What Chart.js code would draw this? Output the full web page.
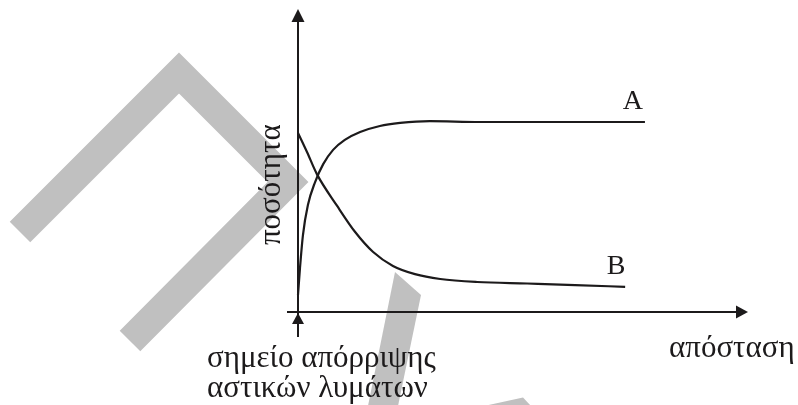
<!DOCTYPE html>
<html>
<head>
<meta charset="utf-8">
<script src="https://cdn.jsdelivr.net/npm/chart.js@4/dist/chart.umd.min.js"></script>
<style>
  html, body { margin: 0; padding: 0; background: #ffffff; }
  #wrap { width: 798px; height: 405px; }
</style>
</head>
<body>
<div id="wrap"><canvas id="c" width="798" height="405"></canvas></div>
<script>
// ---- data (schematic units: x = distance 0..100, y = quantity 0..100) ----
const seriesNames = ['A', 'B'];
const distanceA = [0, 0.44, 1.1, 2.2, 3.8, 5.6, 7.8, 10.4, 13.8, 18.2, 22.7, 29.3, 40.4, 58.2, 77.1];
const quantityA = [5.6, 14.5, 25.4, 35.3, 42.9, 48.8, 53.5, 56.8, 59.4, 61.4, 62.4, 63.0, 62.7, 62.7, 62.7];
const distanceB = [0, 2.0, 4.2, 8.7, 12.7, 16.7, 21.1, 26.0, 31.6, 39.8, 50.9, 61.6, 72.7];
const quantityB = [59.1, 52.8, 45.5, 35.0, 26.4, 19.8, 15.2, 12.5, 10.9, 9.9, 9.4, 8.9, 8.3];
const yAxisTitle = 'ποσότητα';
const xAxisTitle = 'απόσταση';
const originNote = ['σημείο απόρριψης', 'αστικών λυμάτων'];

const INK = '#1c1a1b';
const GREY = '#c0c0c0';
const FONT = '31px "Liberation Serif", "Times New Roman", serif';
const LABEL_FONT = '28px "Liberation Serif", "Times New Roman", serif';

function pts(xs, ys) { return xs.map((x, i) => ({ x: x, y: ys[i] })); }

const watermark = {
  id: 'watermark',
  beforeDatasetsDraw(chart) {
    const ctx = chart.ctx;
    ctx.save();
    ctx.fillStyle = GREY;
    ctx.strokeStyle = GREY;
    // chevron
    ctx.lineWidth = 29;
    ctx.lineJoin = 'miter';
    ctx.lineCap = 'butt';
    ctx.beginPath();
    ctx.moveTo(20, 232);
    ctx.lineTo(179, 73);
    ctx.lineTo(288, 182);
    ctx.lineTo(130, 341);
    ctx.stroke();
    // slanted bar
    ctx.beginPath();
    ctx.moveTo(395, 272);
    ctx.lineTo(421, 295);
    ctx.lineTo(398, 406);
    ctx.lineTo(368, 406);
    ctx.closePath();
    ctx.fill();
    // small piece at bottom
    ctx.beginPath();
    ctx.moveTo(484, 406);
    ctx.lineTo(523, 397.5);
    ctx.lineTo(531, 406);
    ctx.closePath();
    ctx.fill();
    ctx.restore();
  }
};

const axesAndText = {
  id: 'axesAndText',
  afterDatasetsDraw(chart) {
    const ctx = chart.ctx;
    const xs = chart.scales.x, ys = chart.scales.y;
    const x0 = xs.getPixelForValue(0), y0 = ys.getPixelForValue(0);
    const xEnd = xs.getPixelForValue(100), yEnd = ys.getPixelForValue(100);
    ctx.save();
    ctx.strokeStyle = INK;
    ctx.fillStyle = INK;
    ctx.lineWidth = 2;
    // y axis (continues below origin)
    ctx.beginPath();
    ctx.moveTo(x0, y0 + 25);
    ctx.lineTo(x0, yEnd + 10);
    ctx.stroke();
    // y arrow head
    ctx.beginPath();
    ctx.moveTo(x0, yEnd);
    ctx.lineTo(x0 - 6.5, yEnd + 13);
    ctx.lineTo(x0 + 6.5, yEnd + 13);
    ctx.closePath();
    ctx.fill();
    // small arrow pointing at origin from below
    ctx.beginPath();
    ctx.moveTo(x0, y0 + 1);
    ctx.lineTo(x0 - 6, y0 + 12);
    ctx.lineTo(x0 + 6, y0 + 12);
    ctx.closePath();
    ctx.fill();
    // x axis
    ctx.beginPath();
    ctx.moveTo(x0 - 11, y0);
    ctx.lineTo(xEnd - 8, y0);
    ctx.stroke();
    ctx.beginPath();
    ctx.moveTo(xEnd, y0);
    ctx.lineTo(xEnd - 12, y0 - 6.5);
    ctx.lineTo(xEnd - 12, y0 + 6.5);
    ctx.closePath();
    ctx.fill();

    // series labels near the ends
    ctx.font = LABEL_FONT;
    ctx.textBaseline = 'alphabetic';
    const lastA = chart.getDatasetMeta(0).data.at(-1);
    const lastB = chart.getDatasetMeta(1).data.at(-1);
    ctx.textAlign = 'center';
    ctx.fillText(seriesNames[0], lastA.x - 12, lastA.y - 13);
    ctx.fillText(seriesNames[1], lastB.x - 9, lastB.y - 13);
    // y axis title
    ctx.font = FONT;
    ctx.save();
    ctx.translate(x0 - 18, ys.getPixelForValue(42));
    ctx.rotate(-Math.PI / 2);
    ctx.textAlign = 'center';
    ctx.fillText(yAxisTitle, 0, 0);
    ctx.restore();
    // x axis title
    ctx.textAlign = 'left';
    ctx.fillText(xAxisTitle, 669, y0 + 45);
    // origin note
    ctx.fillText(originNote[0], 207, y0 + 55);
    ctx.fillText(originNote[1], 207, y0 + 85);
    ctx.restore();
  }
};

new Chart(document.getElementById('c'), {
  type: 'line',
  data: {
    datasets: [
      { label: seriesNames[0], data: pts(distanceA, quantityA), cubicInterpolationMode: 'monotone' },
      { label: seriesNames[1], data: pts(distanceB, quantityB), cubicInterpolationMode: 'monotone' }
    ]
  },
  options: {
    responsive: false,
    devicePixelRatio: 1,
    animation: false,
    layout: { padding: { left: 298, right: 50, top: 9, bottom: 93 } },
    elements: {
      point: { radius: 0 },
      line: { borderColor: INK, borderWidth: 2.2, fill: false }
    },
    datasets: { line: { clip: 4 } },
    plugins: { legend: { display: false }, tooltip: { enabled: false } },
    scales: {
      x: { type: 'linear', min: 0, max: 100, display: false },
      y: { type: 'linear', min: 0, max: 100, display: false }
    }
  },
  plugins: [watermark, axesAndText]
});
</script>
</body>
</html>
